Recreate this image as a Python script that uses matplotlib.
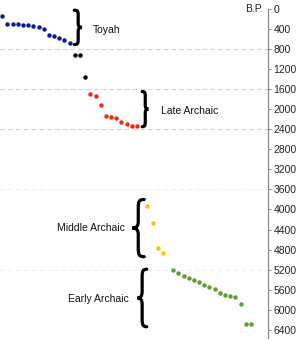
import matplotlib
matplotlib.use("Agg")
import matplotlib.pyplot as plt
from matplotlib.path import Path
from matplotlib.patches import PathPatch

plt.rcParams['font.family'] = ['Liberation Sans', 'DejaVu Sans']

# ---- data (years B.P., plotted in sequence order) ----
toyah_idx = list(range(0, 14))
toyah_bp = [139, 299, 305, 305, 319, 331, 339, 359, 398, 518, 544, 590, 629, 683]
other_idx = [14, 15, 16]
other_bp = [928, 928, 1361]
late_idx = list(range(17, 27))
late_bp = [1699, 1733, 1912, 2131, 2151, 2171, 2257, 2291, 2331, 2331]
middle_idx = [28, 29, 30, 31]
middle_bp = [3924, 4263, 4767, 4861]
early_idx = list(range(33, 49))
early_bp = [5205, 5271, 5325, 5371, 5410, 5450, 5498, 5544, 5578, 5657,
            5697, 5723, 5743, 5876, 6275, 6287]

yticks = list(range(0, 6401, 400))
grid_major = [800, 1600, 2400]
grid_faint = [3600, 5200]

periods = ["Toyah", "Late Archaic", "Middle Archaic", "Early Archaic"]

W, H = 300, 340
fig = plt.figure(figsize=(W / 100, H / 100), dpi=100)
ax = fig.add_axes([0, (H - 338) / H, 268 / W, (338 - 8.7) / H])
ax.set_xlim(-0.444, 51.3)
ax.set_ylim(6560, 0)

for g in grid_major:
    ax.axhline(g, color='#d2d2d2', lw=0.8, ls=(0, (4, 3)), zorder=0)
for g in grid_faint:
    ax.axhline(g, color='#f0f0f0', lw=0.8, ls=(0, (4, 3)), zorder=0)

ms = 3.2
ax.plot(toyah_idx, toyah_bp, 'o', color='#0b1a94', ms=ms, mec='none', clip_on=False)
ax.plot(other_idx, other_bp, 'o', color='#000000', ms=ms, mec='none', clip_on=False)
ax.plot(late_idx, late_bp, 'o', color='#f0281a', ms=ms, mec='none', clip_on=False)
ax.plot(middle_idx, middle_bp, 'o', color='#ffc20f', ms=ms, mec='none', clip_on=False)
ax.plot(early_idx, early_bp, 'o', color='#5c9e34', ms=ms, mec='none', clip_on=False)

for s in ['top', 'left', 'bottom']:
    ax.spines[s].set_visible(False)
ax.spines['right'].set_color('#8a8a8a')
ax.spines['right'].set_linewidth(0.9)
ax.yaxis.tick_right()
ax.set_yticks(yticks)
ax.set_yticklabels([str(t) for t in yticks])
ax.tick_params(axis='y', direction='out', length=2.5, width=0.7, color='#8a8a8a',
               labelsize=7.5, labelcolor='#222222', pad=1.5)
ax.set_xticks([])

ax.text(50.3, 0, "B.P.", ha='right', va='center', fontsize=7.5, color='#222222')


def brace(x_hook, x_tip, y0, y1, lw=2.3):
    w = x_tip - x_hook
    xs = x_hook + 0.5 * w
    ym = (y0 + y1) / 2.0
    h = y1 - y0
    verts = [
        (x_hook, y0),
        (x_hook + 0.45 * w, y0), (xs, y0 + 0.04 * h), (xs, y0 + 0.14 * h),
        (xs, ym - 0.12 * h),
        (xs, ym - 0.03 * h), (xs + 0.15 * w, ym), (x_tip, ym),
        (xs + 0.15 * w, ym), (xs, ym + 0.03 * h), (xs, ym + 0.12 * h),
        (xs, y1 - 0.14 * h),
        (xs, y1 - 0.04 * h), (x_hook + 0.45 * w, y1), (x_hook, y1),
    ]
    codes = [Path.MOVETO,
             Path.CURVE4, Path.CURVE4, Path.CURVE4,
             Path.LINETO,
             Path.CURVE4, Path.CURVE4, Path.CURVE4,
             Path.CURVE4, Path.CURVE4, Path.CURVE4,
             Path.LINETO,
             Path.CURVE4, Path.CURVE4, Path.CURVE4]
    ax.add_patch(PathPatch(Path(verts, codes), fill=False, lw=lw, color='black',
                           capstyle='round', joinstyle='miter', clip_on=False))


brace(13.9, 15.4, 30, 715)
brace(27.0, 28.2, 1650, 2350)
brace(27.4, 25.1, 3800, 4940)
brace(27.9, 26.1, 5190, 6335)

fs = 7.5
ax.text(17.5, 424, periods[0], ha='left', va='center', fontsize=fs, color='#111111')
ax.text(30.6, 2040, periods[1], ha='left', va='center', fontsize=fs, color='#111111')
ax.text(23.6, 4368, periods[2], ha='right', va='center', fontsize=fs, color='#111111')
ax.text(24.5, 5783, periods[3], ha='right', va='center', fontsize=fs, color='#111111')

fig.savefig("out.png", dpi=100)
